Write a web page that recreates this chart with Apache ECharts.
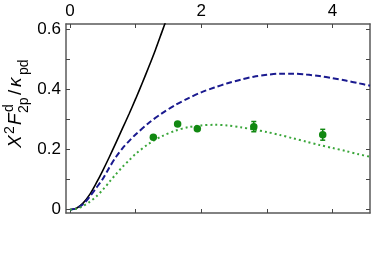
<!DOCTYPE html>
<html><head><meta charset="utf-8">
<script src="https://cdn.jsdelivr.net/npm/echarts@6/dist/echarts.min.js"></script>
<style>html,body{margin:0;padding:0;background:#fff}#c{width:374px;height:265px}</style>
</head><body><div id="c"></div>
<script>
var blackX = [0,0.1,0.2,0.3,0.4,0.5,0.6,0.7,0.8,0.9,1.0,1.1,1.2,1.3,1.4,1.5];
var blackY = [0,0.005,0.022,0.05,0.088,0.13,0.175,0.222,0.27,0.318,0.368,0.42,0.474,0.53,0.59,0.65];
var curveX = [0,0.1,0.2,0.3,0.4,0.5,0.6,0.7,0.8,0.9,1.0,1.2,1.4,1.6,1.8,2.0,2.2,2.4,2.6,2.8,3.0,3.2,3.4,3.6,3.8,4.0,4.2,4.4,4.57];
var blueY = [0,0.004,0.018,0.043,0.072,0.102,0.14,0.175,0.204,0.228,0.25,0.288,0.32,0.347,0.37,0.39,0.406,0.42,0.432,0.442,0.448,0.452,0.452,0.449,0.444,0.437,0.429,0.42,0.412];
var greenY = [0,0.003,0.012,0.026,0.044,0.066,0.092,0.118,0.142,0.164,0.185,0.219,0.244,0.262,0.274,0.28,0.282,0.28,0.274,0.266,0.258,0.248,0.237,0.226,0.215,0.205,0.195,0.184,0.176];
var ptX = [1.27,1.64,1.94,2.80,3.85];
var ptY = [0.241,0.285,0.269,0.276,0.249];
var ptErr = [0.004,0.004,0.004,0.017,0.018];
var xTicks = [0,1,2,3,4];
var xLabels = [0,2,4];
var yTicks = [0,0.1,0.2,0.3,0.4,0.5,0.6];
var yLabels = [0,0.2,0.4,0.6];

function zip(a,b){return a.map(function(v,i){return [v,b[i]];});}
var FONT = 'Liberation Sans';
var frame = {show:true, onZero:false, lineStyle:{color:'#5a5a5a', width:1.5}};
var tick = {show:true, inside:true, length:4, lineStyle:{color:'#444', width:1}};
var lbl = {color:'#000', fontSize:17, fontFamily:FONT};
function t(text, x, y, font){
  return {type:'text', x:x, y:y, rotation:Math.PI/2,
    style:{text:text, font:font, fill:'#000', align:'left', verticalAlign:'bottom'}};
}
var M = 'italic 19px Liberation Sans', R = '19px Liberation Sans', S = '14px Liberation Sans';

var chart = echarts.init(document.getElementById('c'), null, {renderer:'canvas'});
chart.setOption({
  animation:false,
  grid:{left:66, right:4, top:24, bottom:52},
  xAxis:[
    {type:'value', position:'bottom', min:-0.06, max:4.57, axisLine:frame, splitLine:{show:false},
     axisTick:Object.assign({customValues:xTicks}, tick), axisLabel:{show:false}},
    {type:'value', position:'top', min:-0.06, max:4.57, axisLine:frame, splitLine:{show:false},
     axisTick:Object.assign({customValues:xTicks}, tick),
     axisLabel:Object.assign({customValues:xLabels, margin:4}, lbl)}
  ],
  yAxis:[
    {type:'value', position:'left', min:-0.011, max:0.617, axisLine:frame, splitLine:{show:false},
     axisTick:Object.assign({customValues:yTicks}, tick),
     axisLabel:Object.assign({customValues:yLabels, margin:5}, lbl)},
    {type:'value', position:'right', min:-0.011, max:0.617, axisLine:frame, splitLine:{show:false},
     axisTick:Object.assign({customValues:yTicks}, tick), axisLabel:{show:false}}
  ],
  graphic:[
    t('X', 25, 148, M),
    t('2', 17, 134, S),
    t('F', 25, 125, M),
    t('d', 16, 112, S),
    t('2p', 31, 113, S),
    t('/', 25, 95, R),
    t('κ', 25, 87, M),
    t('pd', 31, 75, S)
  ],
  series:[
    {type:'line', data:zip(blackX,blackY), smooth:0.3, symbol:'none', clip:true,
     lineStyle:{color:'#000', width:1.6}},
    {type:'line', data:zip(curveX,blueY), smooth:0.3, symbol:'none', clip:true,
     lineStyle:{color:'#1a1a8f', width:2, type:[6,3]}},
    {type:'line', data:zip(curveX,greenY), smooth:0.3, symbol:'none', clip:true,
     lineStyle:{color:'#3aa63a', width:2, type:[2,3]}},
    {type:'custom', data:ptX.map(function(x,i){return [x, ptY[i]-ptErr[i], ptY[i]+ptErr[i]];}),
     renderItem:function(params, api){
       var lo = api.coord([api.value(0), api.value(1)]);
       var hi = api.coord([api.value(0), api.value(2)]);
       return {type:'group', children:[
         {type:'line', shape:{x1:lo[0],y1:lo[1],x2:hi[0],y2:hi[1]}, style:{stroke:'#118811', lineWidth:1.5}},
         {type:'line', shape:{x1:lo[0]-2.5,y1:lo[1],x2:lo[0]+2.5,y2:lo[1]}, style:{stroke:'#118811', lineWidth:1.5}},
         {type:'line', shape:{x1:hi[0]-2.5,y1:hi[1],x2:hi[0]+2.5,y2:hi[1]}, style:{stroke:'#118811', lineWidth:1.5}}
       ]};
     }, z:3},
    {type:'scatter', data:zip(ptX,ptY), symbol:'circle', symbolSize:7.5,
     itemStyle:{color:'#118811', opacity:1}, z:4}
  ]
});
</script></body></html>
